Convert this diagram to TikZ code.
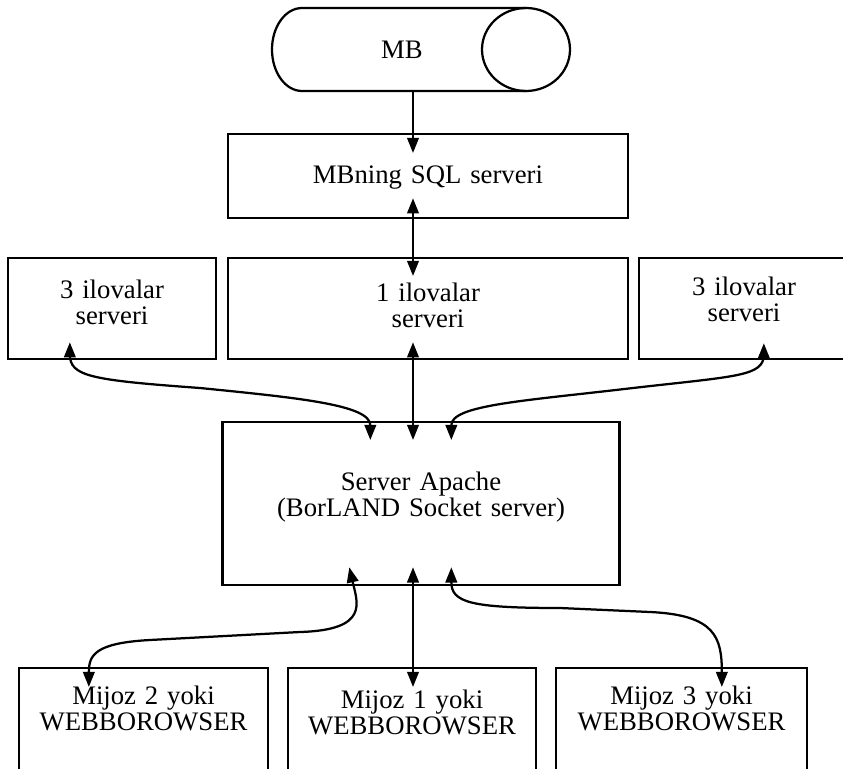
\documentclass[tikz,border=0pt]{standalone}
\usepackage{fontspec}
\setmainfont{Liberation Serif}[WordSpace=2.6]
\usetikzlibrary{arrows.meta,calc}

\newcommand{\pxu}{0.025cm}

\tikzset{
  box/.style={draw, anchor=north, align=center, inner xsep=0pt, inner ysep=0pt,
    font=\fontsize{19}{18.5}\selectfont},
}

\begin{document}
\begin{tikzpicture}[x=\pxu, y=\pxu, line width=1.6pt, >={Triangle[length=3.8mm,width=2.9mm]}]
    \useasboundingbox (0,0) rectangle (843,-769);
    \clip (0,0) rectangle (843,-769);

    % MB (database)
    \draw (526,-8) -- (302,-8) arc[start angle=90, end angle=270, x radius=30, y radius=41.5] -- (526,-91);
    \draw (526,-49.5) ellipse [x radius=44, y radius=41.5];
    \node[font=\fontsize{19}{18.5}\selectfont] (mb) at (402,-50) {MB};
    \coordinate (mbbase) at (413,-91);
    \coordinate (col) at (413,0);

    % SQL server
    \node[box, text width=10cm, text height=1.225cm, text depth=0.875cm] (sql) at (428,-133) {MBning SQL serveri};

    % application servers
    \node[box, text width=5.2cm, text height=1cm, text depth=1.525cm] (appL) at (112,-257) {3 ilovalar\\serveri};
    \node[box, text width=10cm, text height=1.075cm, text depth=1.45cm] (app1) at (428,-257) {1 ilovalar\\serveri};
    \node[box, text width=5.25cm, text height=0.925cm, text depth=1.6cm] (appR) at (744,-257) {3 ilovalar\\serveri};

    % Apache
    \node[box, text width=9.925cm, text height=1.7cm, text depth=2.375cm] (apache) at (421,-421) {Server Apache\\(BorLAND Socket server)};

    % clients
    \node[box, text width=6.225cm, text height=0.9cm, text depth=3cm] (cl2) at (143.5,-667) {Mijoz 2 yoki\\WEBBOROWSER};
    \node[box, text width=6.2cm, text height=1cm, text depth=3cm] (cl1) at (412,-667) {Mijoz 1 yoki\\WEBBOROWSER};
    \node[box, text width=6.275cm, text height=0.9cm, text depth=3cm] (cl3) at (681.5,-667) {Mijoz 3 yoki\\WEBBOROWSER};

    % links
    \draw[->] (mbbase) -- ($(sql.north -| col)+(0,-20)$);
    \draw[<->] ($(sql.south -| col)+(0,21)$) -- ($(app1.north -| col)+(0,-19)$);
    \draw[<->] ($(app1.south -| col)+(0,18)$) -- ($(apache.north -| col)+(0,-19)$);
    \draw[<->] ($(appL.south west)+(63,18)$) -- ++(0,-12) .. controls +(0,-22) and +(-110,8) .. (200,-388)
        .. controls +(100,-10) and +(0,35) .. ($(apache.north west)+(149,-19)$);
    \draw[<->] ($(appR.south west)+(126,17)$) -- ++(0,-11) .. controls +(0,-22) and +(105,12) .. (633,-388)
        .. controls +(-110,-13) and +(0,35) .. ($(apache.north west)+(230,-19)$);

    \draw[<->] ($(apache.south -| col)+(0,19)$) -- ($(cl1.north -| col)+(0,-20)$);
    \draw[<->] ($(apache.south west)+(128,19)$) .. controls +(8,-35) and +(70,2) .. (300,-632) -- (150,-640)
        .. controls +(-55,-3) and +(0,32) .. ($(cl2.north west)+(71,-20)$);
    \draw[<->] ($(apache.south west)+(230,19)$) .. controls +(0,-35) and +(-90,0) .. (560,-608) -- (650,-612)
        .. controls +(65,-3) and +(0,50) .. ($(cl3.north west)+(167,-20)$);
\end{tikzpicture}
\end{document}
